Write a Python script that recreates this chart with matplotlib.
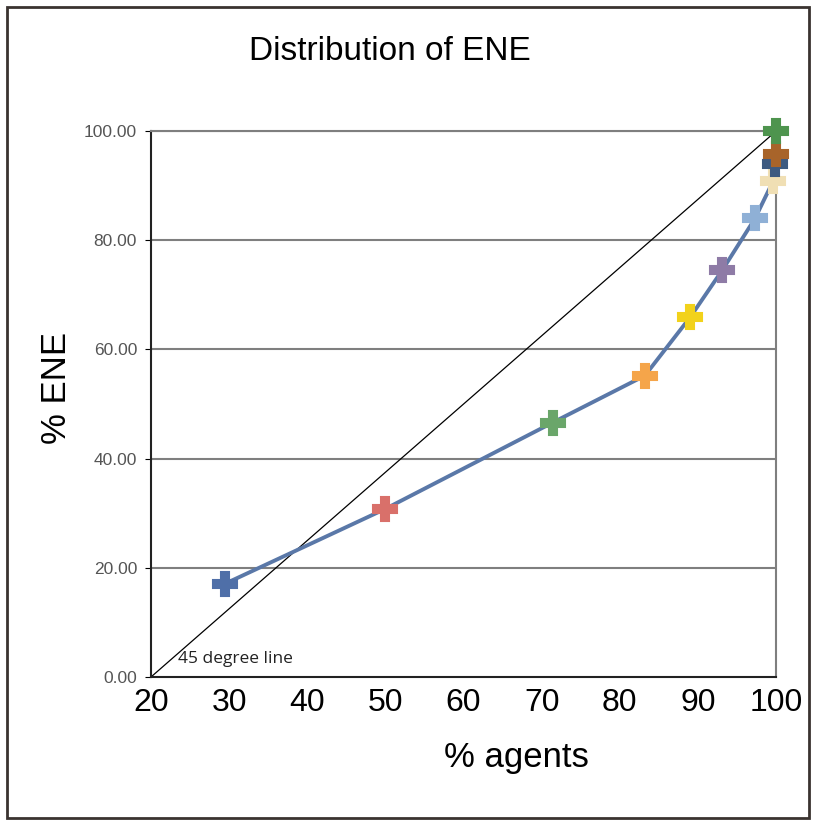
import matplotlib
matplotlib.use("Agg")
import matplotlib.pyplot as plt
from matplotlib.patches import Rectangle

plt.rcParams["font.family"] = ["Liberation Sans", "DejaVu Sans"]

# % agents vs % ENE
agents = [29.5, 50.0, 71.4, 83.2, 89.0, 93.1, 97.3, 99.6, 99.9, 100.0, 100.0]
ene = [17.1, 30.8, 46.6, 55.2, 65.9, 74.5, 84.0, 90.8, 94.0, 95.8, 100.0]
colors = ["#4f6fa8", "#d9706a", "#6aa66a", "#f5a54a", "#f2d21b", "#8e7ba6",
          "#8fb0d6", "#f0dfb4", "#3d5a80", "#a8642a", "#4e944e"]

line45_x = [20, 100]
line45_y = [0, 100]

xticks = [20, 30, 40, 50, 60, 70, 80, 90, 100]
yticks = [0, 20, 40, 60, 80, 100]

fig = plt.figure(figsize=(8.14, 8.21), dpi=100)
fig.patches.append(Rectangle((0.009, 0.004), 0.985, 0.987, transform=fig.transFigure,
                             fill=False, edgecolor="#3a3330", linewidth=2))
ax = fig.add_axes([0.1855, 0.1754, 0.768, 0.665])

for yv in yticks[1:]:
    ax.axhline(yv, color="#7f7f7f", linewidth=1.5, zorder=1)

ax.plot(line45_x, line45_y, color="black", linewidth=0.9, zorder=2)
ax.plot(agents, ene, color="#5a78a8", linewidth=2.8, zorder=3)
for x, y, c in zip(agents, ene, colors):
    ax.plot(x, y, marker="P", markersize=17, color=c, markeredgecolor=c,
            markeredgewidth=1.5, zorder=4, clip_on=False)

ax.text(23.5, 2.6, "45 degree line", fontsize=12.5, family="Open Sans", color="#222222")

ax.set_xlim(20, 100)
ax.set_ylim(0, 100)
ax.set_xticks(xticks)
ax.set_xticklabels([str(t) for t in xticks], fontsize=23)
ax.set_yticks(yticks)
ax.set_yticklabels(["%.2f" % t for t in yticks], fontsize=12.5, color="#555555")
ax.tick_params(axis="x", length=0, pad=8)
ax.tick_params(axis="y", length=4, pad=6)

for s in ["left", "bottom"]:
    ax.spines[s].set_color("#222222")
    ax.spines[s].set_linewidth(1.5)
for s in ["right", "top"]:
    ax.spines[s].set_color("#7f7f7f")
    ax.spines[s].set_linewidth(1.5)

fig.text(0.635, 0.077, "% agents", fontsize=25, ha="center", va="center")
fig.text(0.069, 0.527, "% ENE", fontsize=25, ha="center", va="center", rotation=90)
fig.text(0.479, 0.937, "Distribution of ENE", fontsize=24, ha="center", va="center")

fig.savefig("out.png", dpi=100)
